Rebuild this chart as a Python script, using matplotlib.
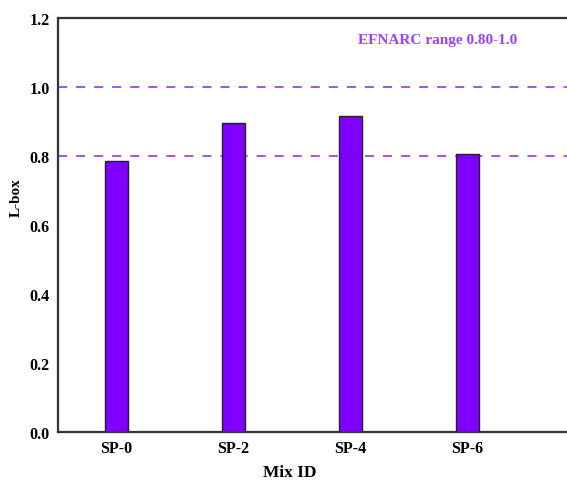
import numpy as np
import matplotlib
matplotlib.use("Agg")
import matplotlib.pyplot as plt

plt.rcParams['font.family'] = ['Liberation Serif', 'DejaVu Serif']
plt.rcParams['font.weight'] = 'bold'

mixes = ['SP-0', 'SP-2', 'SP-4', 'SP-6']
lbox = [0.785, 0.895, 0.915, 0.805]
efnarc_limits = [0.80, 1.0]

fig = plt.figure(figsize=(5.67, 4.81), dpi=100)
# right side of the frame is cut off in the original, so run the axes to the edge
ax = fig.add_axes([58 / 567, 48 / 481, 509 / 567, 414 / 481])

x = np.arange(len(mixes))
ax.bar(x, lbox, width=0.2, color='#7F00FF', edgecolor='#222222', linewidth=1.0, zorder=3)

for lim in efnarc_limits:
    ax.axhline(lim, color='#A040FF', linestyle=(0, (5, 5)), linewidth=1.3, zorder=2)

ax.text(0.902, 0.947, 'EFNARC range 0.80-1.0', transform=ax.transAxes,
        ha='right', va='center', color='#A040FF', fontsize=11, fontweight='bold')

ax.set_xlim(-0.5, -0.5 + 509 / 117)
ax.set_ylim(0, 1.2)
ax.set_yticks(np.arange(0, 1.21, 0.2))
ax.set_yticklabels([f'{v:.1f}' for v in np.arange(0, 1.21, 0.2)])
ax.set_xticks(x)
ax.set_xticklabels(mixes)
ax.tick_params(length=0, labelsize=11.5, pad=6)
for lab in ax.get_xticklabels() + ax.get_yticklabels():
    lab.set_fontweight('bold')

ax.set_xlabel('Mix ID', fontsize=12.5, fontweight='bold')
ax.set_ylabel('L-box', fontsize=11, fontweight='bold')
ax.xaxis.set_label_coords(0.456, -0.077)
ax.yaxis.set_label_coords(-0.069, 0.568)

for side in ['left', 'bottom', 'top']:
    ax.spines[side].set_linewidth(1.6)
    ax.spines[side].set_color('#333333')
ax.spines['right'].set_visible(False)

fig.savefig('out.png', dpi=100)
